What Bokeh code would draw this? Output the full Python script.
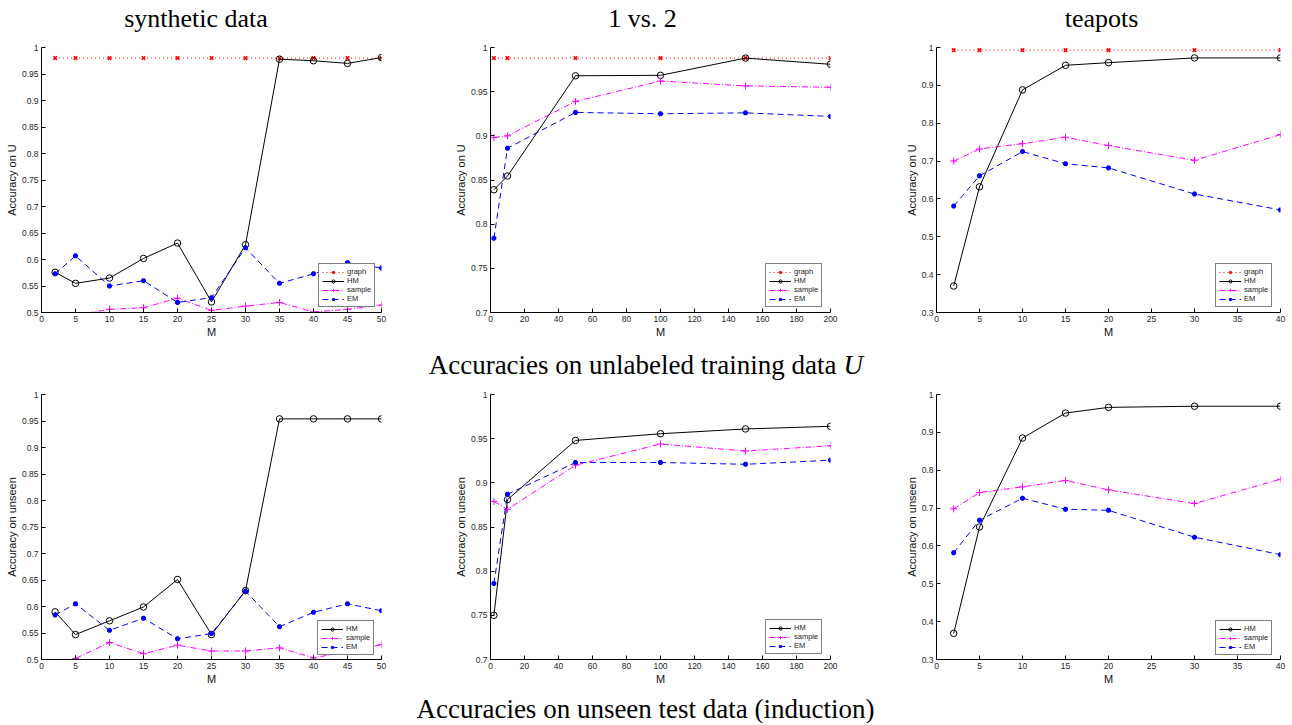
from bokeh.plotting import figure
from bokeh.layouts import column, row
from bokeh.models import Range1d, FixedTicker, CustomJSTickFormatter
from bokeh.core.properties import value
from bokeh.embed import file_html
from bokeh.resources import INLINE

# ---------------- data ----------------
TITLES = ["synthetic data", "1 vs. 2", "teapots"]
CAPTION_U = "Accuracies on unlabeled training data"
CAPTION_U_VAR = "U"
CAPTION_UNSEEN = "Accuracies on unseen test data (induction)"

M_SYN = [2, 5, 10, 15, 20, 25, 30, 35, 40, 45, 50]
M_12 = [2, 10, 50, 100, 150, 200]
M_TEA = [2, 5, 10, 15, 20, 30, 40]

# synthetic data, accuracy on U
syn_u_graph = [0.98, 0.98, 0.98, 0.98, 0.98, 0.98, 0.98, 0.98, 0.98, 0.98, 0.98]
syn_u_hm = [0.576, 0.555, 0.565, 0.602, 0.631, 0.520, 0.628, 0.978, 0.975, 0.970, 0.981]
syn_u_sample = [0.488, 0.495, 0.506, 0.509, 0.527, 0.504, 0.512, 0.519, 0.501, 0.506, 0.514]
syn_u_em = [0.573, 0.607, 0.550, 0.560, 0.519, 0.528, 0.622, 0.555, 0.573, 0.594, 0.584]

# 1 vs. 2, accuracy on U
v12_u_graph = [0.988, 0.988, 0.988, 0.988, 0.988, 0.988]
v12_u_hm = [0.839, 0.8545, 0.968, 0.9685, 0.988, 0.981]
v12_u_sample = [0.898, 0.900, 0.939, 0.962, 0.9565, 0.955]
v12_u_em = [0.784, 0.886, 0.9265, 0.925, 0.926, 0.922]

# teapots, accuracy on U
tea_u_graph = [0.993, 0.993, 0.993, 0.993, 0.993, 0.993, 0.993]
tea_u_hm = [0.370, 0.632, 0.888, 0.953, 0.960, 0.9725, 0.9725]
tea_u_sample = [0.700, 0.732, 0.746, 0.763, 0.741, 0.702, 0.770]
tea_u_em = [0.581, 0.661, 0.725, 0.693, 0.682, 0.613, 0.571]

# synthetic data, accuracy on unseen
syn_t_hm = [0.590, 0.547, 0.573, 0.599, 0.651, 0.547, 0.630, 0.954, 0.954, 0.954, 0.954]
syn_t_sample = [0.490, 0.502, 0.532, 0.511, 0.527, 0.516, 0.516, 0.522, 0.503, 0.515, 0.528]
syn_t_em = [0.584, 0.605, 0.555, 0.578, 0.539, 0.549, 0.629, 0.562, 0.589, 0.605, 0.592]

# 1 vs. 2, accuracy on unseen
v12_t_hm = [0.750, 0.881, 0.948, 0.9556, 0.961, 0.964]
v12_t_sample = [0.879, 0.870, 0.920, 0.944, 0.936, 0.942]
v12_t_em = [0.786, 0.887, 0.923, 0.923, 0.921, 0.9256]

# teapots, accuracy on unseen
tea_t_hm = [0.369, 0.650, 0.885, 0.951, 0.966, 0.969, 0.969]
tea_t_sample = [0.698, 0.741, 0.756, 0.773, 0.748, 0.712, 0.776]
tea_t_em = [0.582, 0.668, 0.726, 0.697, 0.694, 0.623, 0.577]

XTICKS_SYN = [0, 5, 10, 15, 20, 25, 30, 35, 40, 45, 50]
XTICKS_12 = [0, 20, 40, 60, 80, 100, 120, 140, 160, 180, 200]
XTICKS_TEA = [0, 5, 10, 15, 20, 25, 30, 35, 40]
YTICKS_SYN = [0.5, 0.55, 0.6, 0.65, 0.7, 0.75, 0.8, 0.85, 0.9, 0.95, 1.0]
YTICKS_12 = [0.7, 0.75, 0.8, 0.85, 0.9, 0.95, 1.0]
YTICKS_TEA = [0.3, 0.4, 0.5, 0.6, 0.7, 0.8, 0.9, 1.0]

# ---------------- styles ----------------
SANS = "Liberation Sans"
SERIF = "Liberation Serif"
STYLE = {
    "graph": dict(color="#ff0000", dash="1 3", marker="x", size=5, lw=1.5, fill=None),
    "HM": dict(color="#000000", dash="solid", marker="circle", size=6.5, lw=1, fill=None),
    "sample": dict(color="#ff00ff", dash="6 2 1 2", marker="cross", size=7, lw=1, fill=None),
    "EM": dict(color="#0000ff", dash="6 4", marker="asterisk", size=5, lw=2, fill=None),
}

yfmt = "return String(Math.round(tick*100)/100)"


def panel(xs, series, xend, ystart, xticks, yticks, ylabel, borders, frame, leg_xy):
    l, r, t, b = borders
    fw, fh = frame
    p = figure(width=l + fw + r, height=t + fh + b,
               x_range=Range1d(0, xend), y_range=Range1d(ystart, 1.0),
               output_backend="svg", toolbar_location=None,
               min_border_left=l, min_border_right=r,
               min_border_top=t, min_border_bottom=b,
               outline_line_color=None, background_fill_color="white",
               border_fill_color="white")
    p.grid.visible = False
    for name, ys in series:
        s = STYLE[name]
        p.line(xs, ys, line_color=s["color"], line_dash=s["dash"], line_width=1,
               legend_label=name)
        p.scatter(xs, ys, marker=s["marker"], size=s["size"], line_color=s["color"],
                  line_width=s["lw"], fill_color=s["fill"], legend_label=name)
    p.xaxis.ticker = FixedTicker(ticks=xticks)
    p.yaxis.ticker = FixedTicker(ticks=yticks)
    p.yaxis.formatter = CustomJSTickFormatter(code=yfmt)
    p.xaxis.axis_label = "M"
    p.yaxis.axis_label = ylabel
    for ax in (p.xaxis[0], p.yaxis[0]):
        ax.axis_line_color = "black"
        ax.major_tick_line_color = "black"
        ax.major_tick_in = 4
        ax.major_tick_out = 0
        ax.minor_tick_line_color = None
        ax.major_label_text_font = SANS
        ax.major_label_text_font_size = "8.5px"
        ax.major_label_text_color = "#262626"
        ax.axis_label_text_font = SANS
        ax.axis_label_text_font_size = "11px"
        ax.axis_label_text_font_style = "normal"
        ax.axis_label_text_color = "#111111"
        ax.major_label_standoff = 3
        ax.axis_label_standoff = 1
    lg = p.legend[0]
    lg.location = leg_xy
    lg.margin = 0
    lg.padding = 3
    lg.spacing = 0
    lg.glyph_width = 22
    lg.glyph_height = 8
    lg.label_height = 8
    lg.label_width = 0
    lg.label_standoff = 3
    lg.label_text_font = SANS
    lg.label_text_font_size = "7.5px"
    lg.label_text_color = "#222222"
    lg.border_line_color = "black"
    lg.border_line_width = 1
    lg.background_fill_color = "white"
    lg.background_fill_alpha = 1
    return p


def text_fig(w, h):
    p = figure(width=w, height=h, x_range=Range1d(0, w), y_range=Range1d(0, h),
               x_axis_type=None, y_axis_type=None, output_backend="svg",
               toolbar_location=None, min_border=0, outline_line_color=None)
    p.grid.visible = False
    return p


W = 1290

# header with panel titles
head = text_fig(W, 36)
head.text(x=[195.5, 642, 1101], y=[18, 18, 18], text=TITLES,
          text_font=value(SERIF), text_font_size="26px", text_align="center",
          text_baseline="alphabetic", text_color="black")

p1 = panel(M_SYN, [("graph", syn_u_graph), ("HM", syn_u_hm), ("sample", syn_u_sample), ("EM", syn_u_em)],
           50, 0.5, XTICKS_SYN, YTICKS_SYN, "Accuracy on U", (41, 59, 9, 27), (340, 268), (277, 5))
p2 = panel(M_12, [("graph", v12_u_graph), ("HM", v12_u_hm), ("sample", v12_u_sample), ("EM", v12_u_em)],
           200, 0.7, XTICKS_12, YTICKS_12, "Accuracy on U", (50, 56, 11, 27), (340, 266), (275, 5))
p3 = panel(M_TEA, [("graph", tea_u_graph), ("HM", tea_u_hm), ("sample", tea_u_sample), ("EM", tea_u_em)],
           40, 0.3, XTICKS_TEA, YTICKS_TEA, "Accuracy on U", (50, 10, 6, 27), (344, 271), (279, 5))

cap1 = text_fig(W, 43)
cap1.text(x=[836], y=[18.3], text=[CAPTION_U], text_font=value(SERIF), text_font_size="27px",
          text_align="right", text_baseline="alphabetic", text_color="black")
cap1.text(x=[843], y=[18.3], text=[CAPTION_U_VAR], text_font=value(SERIF), text_font_size="27px",
          text_font_style="italic", text_align="left", text_baseline="alphabetic", text_color="black")

p4 = panel(M_SYN, [("HM", syn_t_hm), ("sample", syn_t_sample), ("EM", syn_t_em)],
           50, 0.5, XTICKS_SYN, YTICKS_SYN, "Accuracy on unseen", (41, 59, 9, 27), (340, 268), (276, 4))
p5 = panel(M_12, [("HM", v12_t_hm), ("sample", v12_t_sample), ("EM", v12_t_em)],
           200, 0.7, XTICKS_12, YTICKS_12, "Accuracy on unseen", (50, 56, 11, 27), (340, 266), (275, 5))
p6 = panel(M_TEA, [("HM", tea_t_hm), ("sample", tea_t_sample), ("EM", tea_t_em)],
           40, 0.3, XTICKS_TEA, YTICKS_TEA, "Accuracy on unseen", (50, 10, 5, 28), (344, 271), (279, 4))

cap2 = text_fig(W, 36)
cap2.text(x=[645], y=[15], text=[CAPTION_UNSEEN], text_font=value(SERIF), text_font_size="27px",
          text_align="center", text_baseline="alphabetic", text_color="black")

layout = column(head, row(p1, p2, p3), cap1, row(p4, p5, p6), cap2, spacing=0)

with open("out.html", "w") as f:
    f.write(file_html(layout, INLINE))
